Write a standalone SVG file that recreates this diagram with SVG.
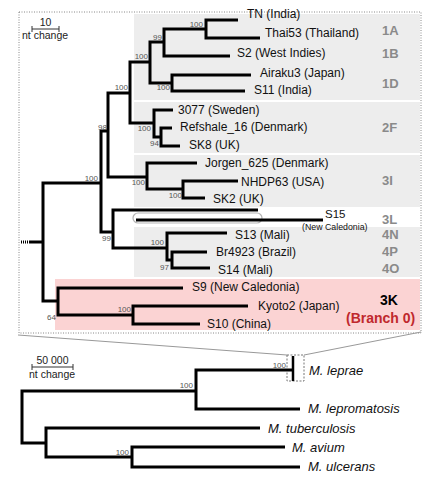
<svg xmlns="http://www.w3.org/2000/svg" width="440" height="478" viewBox="0 0 440 478">
<defs>
<style>
.t{font-family:"Liberation Sans",Arial,sans-serif;font-size:12px;fill:#111}
.s{font-family:"Liberation Sans",Arial,sans-serif;font-size:8px;fill:#555}
.c{font-family:"Liberation Sans",Arial,sans-serif;font-size:13px;font-weight:bold;fill:#8a8a8a}
.i{font-family:"Liberation Sans",Arial,sans-serif;font-size:13px;font-style:italic;fill:#111}
.sc{font-family:"Liberation Sans",Arial,sans-serif;font-size:10.5px;fill:#222}
.br{fill:none;stroke:#000;stroke-width:3}
.band{fill:#ededed}
</style>
</defs>
<rect width="440" height="478" fill="#fff"/>
<g id="panels">
<rect class="band" x="134" y="14" width="286" height="86"/>
<rect class="band" x="134" y="102" width="286" height="51"/>
<rect class="band" x="134" y="155" width="286" height="52"/>
<rect class="band" x="134" y="227" width="286" height="50"/>
<rect x="55" y="279" width="365" height="51" fill="#fbd3d3"/>
<rect x="19" y="12" width="402" height="321" fill="none" stroke="#888" stroke-width="1" stroke-dasharray="1,1.5"/>
<path d="M18,335 L287,355 M421,332 L304,355" fill="none" stroke="#999" stroke-width="1"/>
<rect x="287" y="355" width="17" height="26" fill="none" stroke="#777" stroke-width="1" stroke-dasharray="2,1.5"/>
</g>
<g id="connectors">
<path class="br" d="M238,20 H206 V38 H260"/>
<path class="br" d="M206,29 H164 V56 H230"/>
<path class="br" d="M251,75 H172 V91 H245"/>
<path class="br" d="M164,42 H150 V83 H172"/>
<path class="br" d="M150,62 H130 V123 H154"/>
<path class="br" d="M173,110 H154 V137 H161"/>
<path class="br" d="M172,128 H161 V146 H180"/>
<path class="br" d="M130,93 H108 V177 H147"/>
<path class="br" d="M197,163 H147 V189 H183"/>
<path class="br" d="M238,181 H183 V198 H205"/>
<path class="br" d="M108,131 H101 V232 H113"/>
<path class="br" d="M258,210 H113 V248 H167"/>
<rect x="133" y="213" width="129" height="10" rx="5" fill="none" stroke="#b5b5b5" stroke-width="1.2"/>
<path class="br" d="M136,220 H323"/>
<path class="br" d="M227,233 H167 V260 H172"/>
<path class="br" d="M207,252 H172 V268 H210"/>
<path class="br" d="M101,183 H43 V301 H58"/>
<path class="br" d="M30,242 H43"/>
<path d="M21,242 H30" fill="none" stroke="#000" stroke-width="3" stroke-dasharray="1,1"/>
<path class="br" d="M183,288 H58 V315 H133"/>
<path class="br" d="M248,306 H133 V324 H200"/>
<path class="br" d="M196,391 H22 V443 H46"/>
<path class="br" d="M293,370 H196 V409 H300"/>
<path class="br" d="M260,428 H46 V457 H132"/>
<path class="br" d="M285,447 H132 V467 H300"/>
<path d="M293,356 V381" fill="none" stroke="#000" stroke-width="2.5"/>
<path d="M32,29 H59 M32,26 V32 M59,26 V32" fill="none" stroke="#333" stroke-width="1"/>
<path d="M32,367 H73 M32,364 V370 M73,364 V370" fill="none" stroke="#333" stroke-width="1"/>
</g>
<g id="scale-top"><text class="sc" x="45.5" y="26" text-anchor="middle">10</text><text class="sc" x="22" y="39">nt change</text></g>
<g id="scale-bottom"><text class="sc" x="52.5" y="364" text-anchor="middle">50 000</text><text class="sc" x="29" y="378">nt change</text></g>
<g id="bootstrap">
<text class="s" x="203" y="27" text-anchor="end">100</text>
<text class="s" x="162" y="40" text-anchor="end">99</text>
<text class="s" x="148" y="59" text-anchor="end">100</text>
<text class="s" x="170" y="90" text-anchor="end">100</text>
<text class="s" x="128" y="90" text-anchor="end">100</text>
<text class="s" x="107" y="130" text-anchor="end">98</text>
<text class="s" x="151" y="131" text-anchor="end">100</text>
<text class="s" x="159" y="146" text-anchor="end">94</text>
<text class="s" x="98" y="181" text-anchor="end">100</text>
<text class="s" x="145" y="185" text-anchor="end">100</text>
<text class="s" x="182" y="198" text-anchor="end">100</text>
<text class="s" x="111" y="241" text-anchor="end">99</text>
<text class="s" x="164" y="245" text-anchor="end">100</text>
<text class="s" x="169" y="270" text-anchor="end">97</text>
<text class="s" x="56" y="320" text-anchor="end">64</text>
<text class="s" x="131" y="312" text-anchor="end">100</text>
<text class="s" x="286" y="368" text-anchor="end">100</text>
<text class="s" x="193" y="388" text-anchor="end">100</text>
<text class="s" x="129" y="455" text-anchor="end">100</text>
</g>
<g id="leaf-TN"><text class="t" x="247" y="18">TN (India)</text></g>
<g id="leaf-Thai53"><text class="t" x="265" y="37">Thai53 (Thailand)</text></g>
<g id="leaf-S2"><text class="t" x="237" y="57">S2 (West Indies)</text></g>
<g id="leaf-Airaku3"><text class="t" x="260" y="77">Airaku3 (Japan)</text></g>
<g id="leaf-S11"><text class="t" x="254" y="94">S11 (India)</text></g>
<g id="leaf-3077"><text class="t" x="178" y="114">3077 (Sweden)</text></g>
<g id="leaf-Refshale"><text class="t" x="180" y="131">Refshale_16 (Denmark)</text></g>
<g id="leaf-SK8"><text class="t" x="189" y="149">SK8 (UK)</text></g>
<g id="leaf-Jorgen"><text class="t" x="205" y="167">Jorgen_625 (Denmark)</text></g>
<g id="leaf-NHDP63"><text class="t" x="241" y="186">NHDP63 (USA)</text></g>
<g id="leaf-SK2"><text class="t" x="213" y="203">SK2 (UK)</text></g>
<g id="leaf-S15"><text class="t" x="325" y="218" style="font-size:11.5px">S15</text><text class="t" x="302" y="229.5" style="font-size:8.8px">(New Caledonia)</text></g>
<g id="leaf-S13"><text class="t" x="235" y="239">S13 (Mali)</text></g>
<g id="leaf-Br4923"><text class="t" x="216" y="256">Br4923 (Brazil)</text></g>
<g id="leaf-S14"><text class="t" x="218" y="274">S14 (Mali)</text></g>
<g id="leaf-S9"><text class="t" x="192" y="291">S9 (New Caledonia)</text></g>
<g id="leaf-Kyoto2"><text class="t" x="258" y="310">Kyoto2 (Japan)</text></g>
<g id="leaf-S10"><text class="t" x="207" y="328">S10 (China)</text></g>
<g id="clades">
<text class="c" x="382" y="35">1A</text>
<text class="c" x="382" y="58">1B</text>
<text class="c" x="382" y="88">1D</text>
<text class="c" x="382" y="132">2F</text>
<text class="c" x="382" y="185">3I</text>
<text class="c" x="382" y="224">3L</text>
<text class="c" x="382" y="239">4N</text>
<text class="c" x="382" y="256">4P</text>
<text class="c" x="382" y="273">4O</text>
<text class="c" x="380" y="305" style="fill:#000;font-size:14px">3K</text>
<text class="c" x="346" y="323" style="fill:#c0282d;font-size:14px">(Branch 0)</text>
</g>
<g id="leaf-Mleprae"><text class="i" x="309" y="375">M. leprae</text></g>
<g id="leaf-Mlepromatosis"><text class="i" x="308" y="413">M. lepromatosis</text></g>
<g id="leaf-Mtuberculosis"><text class="i" x="268" y="433">M. tuberculosis</text></g>
<g id="leaf-Mavium"><text class="i" x="292" y="452">M. avium</text></g>
<g id="leaf-Mulcerans"><text class="i" x="308" y="471">M. ulcerans</text></g>
</svg>
